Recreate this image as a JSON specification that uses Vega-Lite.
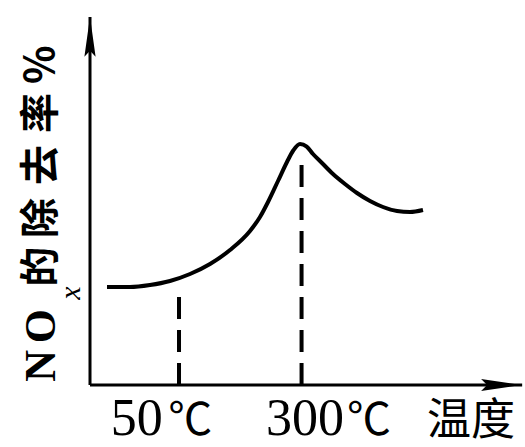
{
  "$schema": "https://vega.github.io/schema/vega-lite/v6.json",
  "width": 430,
  "height": 368,
  "autosize": {"type": "none"},
  "padding": {"left": 90, "top": 17, "right": 5, "bottom": 62},
  "background": "white",
  "config": {"view": {"stroke": null}},
  "datasets": {
    "axes": [
      {"x": 0, "y": 0, "x2": 0, "y2": 100},
      {"x": 0, "y": 0, "x2": 100.5, "y2": 0}
    ],
    "guides": [
      {"x": 20.7, "y": 0, "y2": 24.2},
      {"x": 49.2, "y": 0, "y2": 60.6}
    ],
    "curve": [
      {"x": 3.95, "y": 26.63},
      {"x": 9.30, "y": 26.63},
      {"x": 13.95, "y": 27.17},
      {"x": 18.60, "y": 28.26},
      {"x": 23.26, "y": 30.16},
      {"x": 27.91, "y": 32.88},
      {"x": 32.56, "y": 36.68},
      {"x": 37.21, "y": 41.85},
      {"x": 39.53, "y": 45.65},
      {"x": 41.40, "y": 49.73},
      {"x": 43.72, "y": 55.43},
      {"x": 45.81, "y": 60.60},
      {"x": 47.30, "y": 63.80},
      {"x": 48.84, "y": 65.49},
      {"x": 50.40, "y": 64.80},
      {"x": 51.86, "y": 62.77},
      {"x": 53.95, "y": 60.33},
      {"x": 56.51, "y": 57.34},
      {"x": 59.30, "y": 54.62},
      {"x": 62.09, "y": 52.17},
      {"x": 65.12, "y": 50.00},
      {"x": 68.14, "y": 48.37},
      {"x": 71.40, "y": 47.28},
      {"x": 74.42, "y": 47.01},
      {"x": 77.44, "y": 47.55}
    ],
    "yarrow": [{"x": 0, "y": 94.6}],
    "xarrow": [{"x": 95.6, "y": 0}],
    "xnums": [
      {"x": 10.9, "y": -13.6, "label": "50"},
      {"x": 50.0, "y": -13.6, "label": "300"}
    ],
    "xunits": [
      {"x": 23.3, "y": -13.6, "label": "℃"},
      {"x": 64.9, "y": -13.6, "label": "℃"},
      {"x": 88.6, "y": -13.6, "label": "温度"}
    ],
    "ytitleLatin": [
      {"x": -11.2, "y": 5.2, "label": "N"},
      {"x": -11.2, "y": 16.0, "label": "O"}
    ],
    "ytitleCJK": [
      {"x": -11.2, "y": 32.1, "label": "的"},
      {"x": -11.2, "y": 45.4, "label": "除"},
      {"x": -11.2, "y": 59.8, "label": "去"},
      {"x": -11.2, "y": 73.9, "label": "率"},
      {"x": -11.2, "y": 87.0, "label": "%"}
    ],
    "ysub": [{"x": -4.4, "y": 25.0, "label": "x"}]
  },
  "encoding": {
    "x": {"field": "x", "type": "quantitative", "scale": {"domain": [0, 100], "nice": false, "zero": false}, "axis": null},
    "y": {"field": "y", "type": "quantitative", "scale": {"domain": [0, 100], "nice": false, "zero": false}, "axis": null}
  },
  "layer": [
    {
      "data": {"name": "axes"},
      "mark": {"type": "rule", "color": "black", "strokeWidth": 3},
      "encoding": {
        "x2": {"field": "x2"},
        "y2": {"field": "y2"}
      }
    },
    {
      "data": {"name": "guides"},
      "mark": {"type": "rule", "color": "black", "strokeWidth": 4, "strokeDash": [22, 11]},
      "encoding": {
        "y2": {"field": "y2"}
      }
    },
    {
      "data": {"name": "curve"},
      "mark": {"type": "line", "color": "black", "strokeWidth": 4, "interpolate": "monotone"},
      "encoding": {}
    },
    {
      "data": {"name": "yarrow"},
      "mark": {"type": "point", "filled": true, "color": "black", "opacity": 1, "size": 1600, "shape": "M0,-1L0.28,1L0,0.7L-0.28,1Z"},
      "encoding": {}
    },
    {
      "data": {"name": "xarrow"},
      "mark": {"type": "point", "filled": true, "color": "black", "opacity": 1, "size": 1600, "angle": 90, "shape": "M0,-1L0.3,1L0,0.7L-0.3,1Z"},
      "encoding": {}
    },
    {
      "data": {"name": "xnums"},
      "mark": {"type": "text", "font": "Liberation Serif", "fontSize": 52, "align": "center", "baseline": "alphabetic", "color": "black"},
      "encoding": {"text": {"field": "label"}}
    },
    {
      "data": {"name": "xunits"},
      "mark": {"type": "text", "font": "Noto Sans CJK SC", "fontSize": 44, "align": "center", "baseline": "alphabetic", "color": "black"},
      "encoding": {"text": {"field": "label"}}
    },
    {
      "data": {"name": "ytitleLatin"},
      "mark": {"type": "text", "font": "Liberation Serif", "fontSize": 44, "fontWeight": "bold", "angle": 270, "align": "center", "baseline": "middle", "color": "black"},
      "encoding": {"text": {"field": "label"}}
    },
    {
      "data": {"name": "ytitleCJK"},
      "mark": {"type": "text", "font": "Noto Sans CJK SC", "fontSize": 40, "fontWeight": "bold", "angle": 270, "align": "center", "baseline": "middle", "color": "black"},
      "encoding": {"text": {"field": "label"}}
    },
    {
      "data": {"name": "ysub"},
      "mark": {"type": "text", "font": "Liberation Serif", "fontSize": 30, "fontStyle": "italic", "angle": 270, "align": "center", "baseline": "middle", "color": "black"},
      "encoding": {"text": {"field": "label"}}
    }
  ]
}
